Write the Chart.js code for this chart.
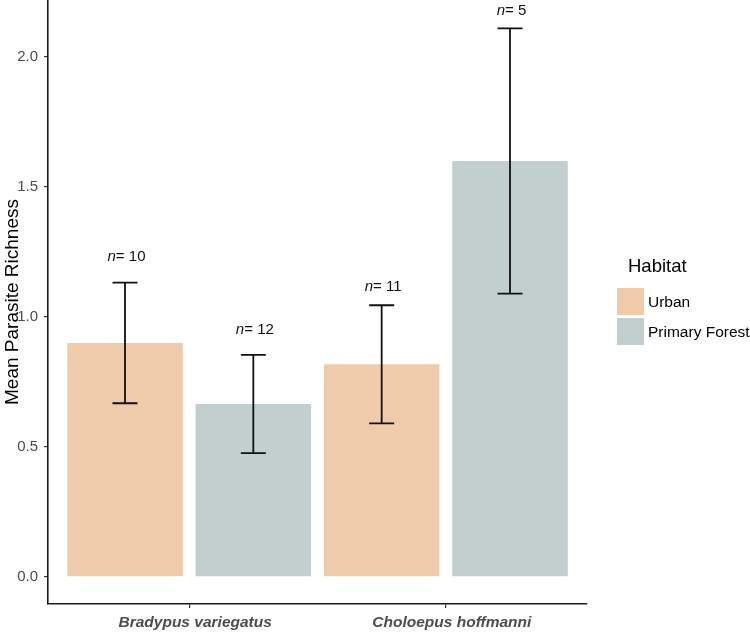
<!DOCTYPE html>
<html>
<head>
<meta charset="utf-8">
<script src="https://cdn.jsdelivr.net/npm/chart.js@4/dist/chart.umd.min.js"></script>
<style>
  html, body { margin: 0; padding: 0; background: #ffffff; }
  #wrap { width: 750px; height: 632px; }
</style>
</head>
<body>
<div id="wrap"><canvas id="c" width="750" height="632"></canvas></div>
<script>
// ---- data ----
const categories = ['Bradypus variegatus', 'Choloepus hoffmanni'];
const seriesNames = ['Urban', 'Primary Forest'];
const urbanMeans = [0.90, 0.818];
const forestMeans = [0.665, 1.60];
const urbanSE = [0.232, 0.227];
const forestSE = [0.189, 0.51];
const urbanN = [10, 11];
const forestN = [12, 5];
const urbanLabelAt = [1.23, 1.115];
const forestLabelAt = [0.95, 2.177];
const yTicks = [0.0, 0.5, 1.0, 1.5, 2.0];
const legendTitle = 'Habitat';
const yTitle = 'Mean Parasite Richness';

const colors = ['#EFCBAB', '#C2CFCE'];
const FONT = '"Liberation Sans", Arial, Helvetica, sans-serif';

const means = [urbanMeans, forestMeans];
const ses = [urbanSE, forestSE];
const ns = [urbanN, forestN];
const labelAt = [urbanLabelAt, forestLabelAt];

const errorBarPlugin = {
  id: 'errorBars',
  afterDatasetsDraw(chart) {
    const ctx = chart.ctx;
    const y = chart.scales.y;
    ctx.save();
    ctx.strokeStyle = '#111111';
    ctx.lineWidth = 1.8;
    chart.data.datasets.forEach((ds, di) => {
      const meta = chart.getDatasetMeta(di);
      meta.data.forEach((el, i) => {
        const m = means[di][i], s = ses[di][i];
        const x = el.x;
        const yt = y.getPixelForValue(m + s);
        const yb = y.getPixelForValue(m - s);
        const hw = 12.5;
        ctx.beginPath();
        ctx.moveTo(x, yt); ctx.lineTo(x, yb);
        ctx.moveTo(x - hw, yt); ctx.lineTo(x + hw, yt);
        ctx.moveTo(x - hw, yb); ctx.lineTo(x + hw, yb);
        ctx.stroke();
        // n label
        const ly = y.getPixelForValue(labelAt[di][i]);
        const italic = 'italic 15px ' + FONT;
        const normal = '15px ' + FONT;
        const rest = '= ' + ns[di][i];
        ctx.font = italic;
        const w1 = ctx.measureText('n').width;
        ctx.font = normal;
        const w2 = ctx.measureText(rest).width;
        const x0 = x - (w1 + w2) / 2 + 1.5;
        ctx.fillStyle = '#111111';
        ctx.textBaseline = 'middle';
        ctx.textAlign = 'left';
        ctx.font = italic;
        ctx.fillText('n', x0, ly);
        ctx.font = normal;
        ctx.fillText(rest, x0 + w1, ly);
      });
    });
    ctx.restore();
  }
};

const legendPlugin = {
  id: 'customLegend',
  afterDraw(chart) {
    const ctx = chart.ctx;
    ctx.save();
    ctx.fillStyle = '#000000';
    ctx.textBaseline = 'middle';
    ctx.textAlign = 'left';
    ctx.font = '18.5px ' + FONT;
    ctx.fillText(legendTitle, 628, 267);
    seriesNames.forEach((name, i) => {
      const top = 288 + i * 30;
      ctx.fillStyle = colors[i];
      ctx.fillRect(617, top, 27, 27);
      ctx.fillStyle = '#000000';
      ctx.font = '15.5px ' + FONT;
      ctx.fillText(name, 648, top + 14.5);
    });
    ctx.restore();
  }
};

const datasets = seriesNames.map((name, di) => ({
  label: name,
  data: means[di].map((v, i) => ({ x: i + 1, y: v })),
  backgroundColor: colors[di],
  borderWidth: 0,
  categoryPercentage: 1.0,
  barPercentage: 0.9
}));

new Chart(document.getElementById('c'), {
  type: 'bar',
  data: { datasets },
  plugins: [errorBarPlugin, legendPlugin],
  options: {
    responsive: false,
    animation: false,
    layout: { padding: { left: 0, top: 0, right: 163, bottom: 0 } },
    plugins: { legend: { display: false }, tooltip: { enabled: false } },
    scales: {
      x: {
        type: 'linear',
        min: 0.45,
        max: 2.55,
        offset: false,
        afterBuildTicks: (s) => { s.ticks = categories.map((c, i) => ({ value: i + 1 })); },
        afterFit: (s) => { s.height = 28; s.paddingLeft = 0; s.paddingRight = 0; },
        ticks: {
          callback: (v) => categories[Math.round(v) - 1],
          autoSkip: false,
          maxRotation: 0,
          padding: 5,
          labelOffset: 6,
          color: '#4D4D4D',
          font: { family: FONT, size: 15.5, style: 'italic', weight: 'bold' }
        },
        grid: { display: true, offset: false, drawOnChartArea: false, drawTicks: true, tickLength: 4, color: '#333333', lineWidth: 1.2 },
        border: { display: true, color: '#1a1a1a', width: 1.6 }
      },
      y: {
        min: -0.104,
        max: 2.219,
        afterBuildTicks: (s) => { s.ticks = yTicks.map(v => ({ value: v })); },
        afterFit: (s) => { s.width = 48; s.paddingTop = 0; s.paddingBottom = 0; },
        ticks: {
          callback: (v) => Number(v).toFixed(1),
          padding: 6,
          color: '#4D4D4D',
          font: { family: FONT, size: 15 }
        },
        title: {
          display: true,
          text: yTitle,
          color: '#000000',
          font: { family: FONT, size: 19 },
          padding: { top: 1, bottom: 0 }
        },
        grid: { display: true, offset: false, drawOnChartArea: false, drawTicks: true, tickLength: 4, color: '#333333', lineWidth: 1.2 },
        border: { display: true, color: '#1a1a1a', width: 1.6 }
      }
    }
  }
});
</script>
</body>
</html>
